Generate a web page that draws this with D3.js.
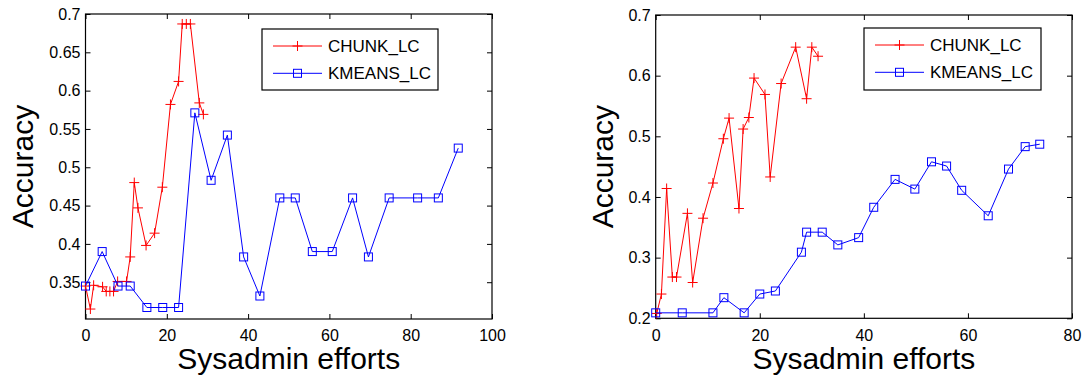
<!DOCTYPE html>
<html>
<head>
<meta charset="utf-8">
<script src="https://cdn.jsdelivr.net/npm/d3@7"></script>
<style>
  body { margin: 0; background: #fff; }
  svg { display: block; font-family: "Liberation Sans", Arial, sans-serif; }
</style>
</head>
<body>
<script>
// Series names
var seriesNames = ["CHUNK_LC", "KMEANS_LC"];

// Left panel data
var leftChunkX = [0, 1.2, 2, 4.2, 5.1, 6.0, 6.9, 7.9, 10.1, 11.0, 12.0, 12.9, 14.9, 17.0, 18.9, 20.9, 22.9, 23.8, 24.8, 25.8, 28.0, 29.0];
var leftChunkY = [0.345, 0.315, 0.346, 0.344, 0.338, 0.338, 0.338, 0.351, 0.351, 0.383, 0.48, 0.447, 0.398, 0.414, 0.474, 0.582, 0.612, 0.687, 0.687, 0.687, 0.584, 0.569];
var leftKmeansX = [0, 4.1, 8.0, 11.0, 15.1, 19.0, 22.9, 26.9, 30.9, 34.9, 38.9, 42.9, 47.8, 51.6, 55.8, 60.7, 65.7, 69.6, 74.7, 81.7, 86.8, 91.7];
var leftKmeansY = [0.345, 0.39, 0.345, 0.345, 0.317, 0.317, 0.317, 0.571, 0.483, 0.542, 0.383, 0.332, 0.46, 0.46, 0.39, 0.39, 0.46, 0.383, 0.46, 0.46, 0.46, 0.525];
var leftXTicks = [0, 20, 40, 60, 80, 100];
var leftYTicks = [0.35, 0.4, 0.45, 0.5, 0.55, 0.6, 0.65, 0.7];

// Right panel data
var rightChunkX = [0.2, 1.1, 2.1, 3.2, 4.0, 6.1, 7.1, 9.1, 11.0, 13.0, 14.1, 16.0, 16.8, 17.9, 18.9, 21.0, 22.0, 24.1, 26.9, 29.0, 30.0, 31.2];
var rightChunkY = [0.208, 0.24, 0.414, 0.268, 0.268, 0.373, 0.259, 0.365, 0.423, 0.496, 0.53, 0.381, 0.512, 0.531, 0.596, 0.569, 0.433, 0.587, 0.647, 0.562, 0.647, 0.632];
var rightKmeansX = [0, 5.1, 11.0, 13.1, 17.0, 20.0, 23.0, 28.0, 29.0, 32.0, 35.0, 39.0, 41.9, 46.0, 49.8, 53.0, 55.9, 58.8, 63.9, 67.8, 71.0, 73.8];
var rightKmeansY = [0.209, 0.209, 0.209, 0.234, 0.209, 0.24, 0.245, 0.309, 0.342, 0.342, 0.321, 0.333, 0.383, 0.429, 0.413, 0.458, 0.451, 0.411, 0.369, 0.446, 0.483, 0.487];
var rightXTicks = [0, 20, 40, 60, 80];
var rightYTicks = [0.2, 0.3, 0.4, 0.5, 0.6, 0.7];

var svgWidth = 1088;
var svgHeight = 381;

var svg = d3.select("body")
            .append("svg")
            .attr("width", svgWidth)
            .attr("height", svgHeight);

var colors = ["#ff0000", "#0000ff"];

function zip(xs, ys) {
  return xs.map(function(x, i) { return {x: x, y: ys[i]}; });
}

// draw a marker (plus or square) at 0,0 inside group g
function drawMarker(g, kind, color) {
  if (kind === "plus") {
    g.append("path")
     .attr("d", "M-5,0H5M0,-5V5")
     .attr("stroke", color)
     .attr("stroke-width", 1)
     .attr("fill", "none");
  } else {
    g.append("rect")
     .attr("x", -4).attr("y", -4)
     .attr("width", 8).attr("height", 8)
     .attr("stroke", color)
     .attr("stroke-width", 1)
     .attr("fill", "none");
  }
}

function drawPanel(p) {
  var x = d3.scaleLinear().domain(p.xDomain).range([p.left, p.right]);
  var y = d3.scaleLinear().domain(p.yDomain).range([p.bottom, p.top]);

  var g = svg.append("g");

  // axes with inward ticks
  g.append("g")
    .attr("transform", "translate(0," + p.bottom + ")")
    .call(d3.axisBottom(x).tickValues(p.xTicks).tickSizeInner(-5).tickSizeOuter(0).tickPadding(11).tickFormat(d3.format("d")));
  g.append("g")
    .attr("transform", "translate(" + p.left + ",0)")
    .call(d3.axisLeft(y).tickValues(p.yTicks).tickSizeInner(-5).tickSizeOuter(0).tickPadding(5).tickFormat(function(d) { return String(+d.toFixed(2)); }));
  g.append("g")
    .attr("transform", "translate(0," + p.top + ")")
    .call(d3.axisTop(x).tickValues(p.xTicks).tickSizeInner(-5).tickSizeOuter(0).tickFormat(""));
  g.append("g")
    .attr("transform", "translate(" + p.right + ",0)")
    .call(d3.axisRight(y).tickValues(p.yTicks).tickSizeInner(-5).tickSizeOuter(0).tickFormat(""));

  g.selectAll(".domain").remove();
  g.selectAll(".tick line").attr("stroke", "#000");
  g.selectAll(".tick text")
   .attr("fill", "#000")
   .style("font-size", "16px")
   .style("font-family", "Liberation Sans, Arial, sans-serif");

  // frame
  g.append("rect")
   .attr("x", p.left).attr("y", p.top)
   .attr("width", p.right - p.left).attr("height", p.bottom - p.top)
   .attr("fill", "none")
   .attr("stroke", "#000")
   .attr("stroke-width", 1.2);

  var line = d3.line().x(function(d) { return x(d.x); }).y(function(d) { return y(d.y); });

  p.series.forEach(function(s, i) {
    g.append("path")
     .datum(s.data)
     .attr("d", line)
     .attr("fill", "none")
     .attr("stroke", colors[i])
     .attr("stroke-width", 1);
    g.selectAll(null).data(s.data).enter()
     .append("g")
     .attr("transform", function(d) { return "translate(" + x(d.x) + "," + y(d.y) + ")"; })
     .each(function() { drawMarker(d3.select(this), s.marker, colors[i]); });
  });

  // legend
  var lg = g.append("g");
  lg.append("rect")
    .attr("x", p.legend.x).attr("y", p.legend.y)
    .attr("width", p.legend.w).attr("height", p.legend.h)
    .attr("fill", "#fff")
    .attr("stroke", "#000")
    .attr("stroke-width", 1.2);
  p.series.forEach(function(s, i) {
    var ry = p.legend.y + 17 + i * 27.3;
    var lx0 = p.legend.x + 11;
    lg.append("line")
      .attr("x1", lx0).attr("x2", lx0 + 49)
      .attr("y1", ry).attr("y2", ry)
      .attr("stroke", colors[i]).attr("stroke-width", 1);
    drawMarker(lg.append("g").attr("transform", "translate(" + (lx0 + 24.5) + "," + ry + ")"), s.marker, colors[i]);
    lg.append("text")
      .attr("x", lx0 + 55)
      .attr("y", ry + 6)
      .style("font-size", "17px")
      .text(seriesNames[i]);
  });

  // axis labels
  g.append("text")
   .attr("x", (p.left + p.right) / 2)
   .attr("y", 368.5)
   .attr("text-anchor", "middle")
   .style("font-size", "30px")
   .text("Sysadmin efforts");
  g.append("text")
   .attr("transform", "translate(" + p.yLabelX + "," + ((p.top + p.bottom) / 2) + ") rotate(-90)")
   .attr("text-anchor", "middle")
   .style("font-size", "30px")
   .text("Accuracy");
}

drawPanel({
  left: 85.5, right: 492, top: 14, bottom: 319,
  xDomain: [0, 100], yDomain: [0.302, 0.7],
  xTicks: leftXTicks, yTicks: leftYTicks,
  yLabelX: 33,
  legend: {x: 262, y: 29, w: 176, h: 61},
  series: [
    {data: zip(leftChunkX, leftChunkY), marker: "plus"},
    {data: zip(leftKmeansX, leftKmeansY), marker: "square"}
  ]
});

drawPanel({
  left: 655.7, right: 1072, top: 15, bottom: 318.3,
  xDomain: [0, 80], yDomain: [0.2, 0.7],
  xTicks: rightXTicks, yTicks: rightYTicks,
  yLabelX: 613,
  legend: {x: 864, y: 28, w: 177, h: 62},
  series: [
    {data: zip(rightChunkX, rightChunkY), marker: "plus"},
    {data: zip(rightKmeansX, rightKmeansY), marker: "square"}
  ]
});
</script>
</body>
</html>
